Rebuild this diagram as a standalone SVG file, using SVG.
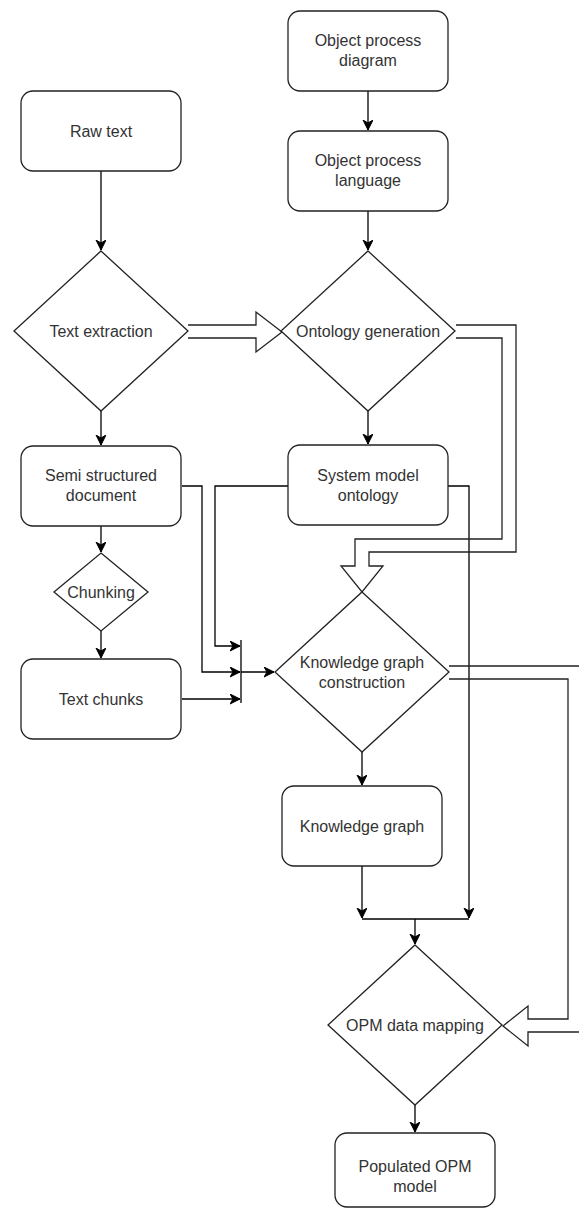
<svg xmlns="http://www.w3.org/2000/svg" width="579" height="1209" viewBox="0 0 579 1209">
<defs>
<marker id="arr" markerUnits="userSpaceOnUse" markerWidth="11" markerHeight="11" refX="10" refY="5" orient="auto" viewBox="0 0 11 11">
<path d="M0,0 L10,5 L0,10 L3,5 Z" fill="#000" stroke="#000" stroke-width="1"/>
</marker>
<style>
.box{fill:#fff;stroke:#222;stroke-width:1.3}
.dia{fill:#fff;stroke:#222;stroke-width:1.3}
.lbl{font-family:"Liberation Sans",Arial,sans-serif;font-size:16px;fill:#333;text-anchor:middle}
.con{fill:none;stroke:#000;stroke-width:1.3}
.ca{marker-end:url(#arr)}
.big{fill:none;stroke:#222;stroke-width:1.3}
</style>
</defs>
<rect width="579" height="1209" fill="#fff"/>

<g id="connectors">
<path class="con ca" d="M101,171 V250"/>
<path class="con ca" d="M368,91 V130"/>
<path class="con ca" d="M368,211 V250"/>
<path class="con ca" d="M101,411 V445"/>
<path class="con ca" d="M368,411 V444"/>
<path class="con ca" d="M101,526 V552"/>
<path class="con ca" d="M101,631 V658"/>
<path class="con ca" d="M182,486 H202 V672 H240"/>
<path class="con ca" d="M288,486 H215 V646 H240"/>
<path class="con ca" d="M182,699 H240"/>
<path class="con" d="M241,640 V703"/>
<path class="con ca" d="M241,672 H274"/>
<path class="con ca" d="M362,752 V785"/>
<path class="con ca" d="M362,866 V918"/>
<path class="con ca" d="M448,486 H469 V918"/>
<path class="con" d="M362,919 H469"/>
<path class="con ca" d="M415,919 V944"/>
<path class="con ca" d="M415,1105 V1132"/>
<path class="big" d="M188,325 H256 V312 L282,332 L256,352 V338 H188"/>
<path class="big" d="M456,325 H516 V552 H369 V566 H383 L362,592 L341,566 H355 V539 H502 V338 H456"/>
<path class="big" d="M449,666 H582 V1032 H528 V1046 L503,1026 L528,1006 V1019 H568 V679 H449"/>
</g>

<g id="raw-text">
<rect class="box" x="21" y="91" width="160" height="80" rx="12"/>
<text class="lbl" x="101" y="137">Raw text</text>
</g>
<g id="object-process-diagram">
<rect class="box" x="288" y="11" width="160" height="80" rx="12"/>
<text class="lbl" x="368" y="46">Object process</text>
<text class="lbl" x="368" y="66">diagram</text>
</g>
<g id="object-process-language">
<rect class="box" x="288" y="131" width="160" height="80" rx="12"/>
<text class="lbl" x="368" y="166">Object process</text>
<text class="lbl" x="368" y="186">language</text>
</g>
<g id="text-extraction">
<polygon class="dia" points="101,251 188,331 101,411 14,331"/>
<text class="lbl" x="101" y="337">Text extraction</text>
</g>
<g id="ontology-generation">
<polygon class="dia" points="368,251 455,331 368,411 281,331"/>
<text class="lbl" x="368" y="337">Ontology generation</text>
</g>
<g id="semi-structured-document">
<rect class="box" x="21" y="446" width="160" height="80" rx="12"/>
<text class="lbl" x="101" y="481">Semi structured</text>
<text class="lbl" x="101" y="501">document</text>
</g>
<g id="system-model-ontology">
<rect class="box" x="288" y="445" width="160" height="80" rx="12"/>
<text class="lbl" x="368" y="481">System model</text>
<text class="lbl" x="368" y="501">ontology</text>
</g>
<g id="chunking">
<polygon class="dia" points="101,553 148,592 101,631 54,592"/>
<text class="lbl" x="101" y="598">Chunking</text>
</g>
<g id="text-chunks">
<rect class="box" x="21" y="659" width="160" height="80" rx="12"/>
<text class="lbl" x="101" y="705">Text chunks</text>
</g>
<g id="knowledge-graph-construction">
<polygon class="dia" points="362,592 449,672 362,752 275,672"/>
<text class="lbl" x="362" y="668">Knowledge graph</text>
<text class="lbl" x="362" y="688">construction</text>
</g>
<g id="knowledge-graph">
<rect class="box" x="282" y="786" width="160" height="80" rx="12"/>
<text class="lbl" x="362" y="832">Knowledge graph</text>
</g>
<g id="opm-data-mapping">
<polygon class="dia" points="415,945 502,1025 415,1105 328,1025"/>
<text class="lbl" x="415" y="1031">OPM data mapping</text>
</g>
<g id="populated-opm-model">
<rect class="box" x="335" y="1133" width="160" height="74" rx="12"/>
<text class="lbl" x="415" y="1172">Populated OPM</text>
<text class="lbl" x="415" y="1192">model</text>
</g>
</svg>
